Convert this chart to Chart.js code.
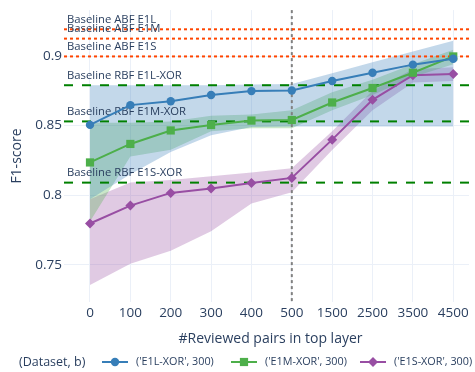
<!DOCTYPE html>
<html>
<head>
<meta charset="utf-8">
<script src="https://cdn.jsdelivr.net/npm/chart.js@4/dist/chart.umd.min.js"></script>
<style>
  html, body { margin: 0; padding: 0; background: #fff; }
  #wrap { width: 475px; height: 372px; }
</style>
</head>
<body>
<div id="wrap"><canvas id="c" width="475" height="372"></canvas></div>
<script>
// x categories (#reviewed pairs)
const steps = ['0', '100', '200', '300', '400', '500', '1500', '2500', '3500', '4500'];
const yTicks = [0.75, 0.8, 0.85, 0.9];

// mean F1 per dataset
const e1l = [0.8505, 0.8647, 0.8675, 0.872, 0.8748, 0.8752, 0.882, 0.888, 0.8938, 0.898];
const e1m = [0.8235, 0.8368, 0.8465, 0.8504, 0.8536, 0.854, 0.8666, 0.877, 0.888, 0.8997];
const e1s = [0.7796, 0.7925, 0.8016, 0.8047, 0.8087, 0.8124, 0.8399, 0.8685, 0.8862, 0.887];

// min / max bands
const e1lLow = [0.797, 0.815, 0.831, 0.843, 0.849, 0.8494, 0.8494, 0.8494, 0.8494, 0.8494];
const e1lHigh = [0.879, 0.879, 0.879, 0.879, 0.8795, 0.8799, 0.8877, 0.8955, 0.9032, 0.911];
const e1mLow = [0.781, 0.8277, 0.8327, 0.846, 0.848, 0.848, 0.861, 0.872, 0.885, 0.894];
const e1mHigh = [0.852, 0.852, 0.853, 0.857, 0.858, 0.861, 0.874, 0.883, 0.894, 0.9045];
const e1sLow = [0.7354, 0.7507, 0.76, 0.774, 0.794, 0.802, 0.8325, 0.861, 0.881, 0.882];
const e1sHigh = [0.797, 0.809, 0.8108, 0.8135, 0.8162, 0.8194, 0.846, 0.875, 0.8905, 0.892];

// baselines
const abfNames = ['Baseline ABF E1L', 'Baseline ABF E1M', 'Baseline ABF E1S'];
const abfValues = [0.9192, 0.9125, 0.8997];
const rbfNames = ['Baseline RBF E1L-XOR', 'Baseline RBF E1M-XOR', 'Baseline RBF E1S-XOR'];
const rbfValues = [0.879, 0.853, 0.809];
const markerStep = 5; // index of "500"

const legendTitle = '(Dataset, b)';
const seriesNames = ["('E1L-XOR', 300)", "('E1M-XOR', 300)", "('E1S-XOR', 300)"];

const BLUE = '#377eb8', GREEN = '#4daf4a', PURPLE = '#984ea3';
const TXT = '#2a3f5f';
const FONT = '"Open Sans", "Noto Sans", sans-serif';

const pts = arr => arr.map((v, i) => ({ x: i, y: v }));

function band(arr, color, fill) {
  return {
    data: pts(arr), borderWidth: 0, borderColor: 'transparent', pointRadius: 0,
    backgroundColor: color, fill: fill, tension: 0, order: 10
  };
}
function series(arr, color, style, r) {
  return {
    data: pts(arr), borderColor: color, backgroundColor: color, borderWidth: 2,
    pointStyle: style, pointRadius: r, pointBorderWidth: 0, fill: false, tension: 0, order: 1
  };
}

const extras = {
  id: 'extras',
  beforeDatasetsDraw(chart) {
    const { ctx, chartArea: a, scales: { x, y } } = chart;
    ctx.save();
    ctx.beginPath();
    ctx.rect(a.left, a.top, a.right - a.left, a.bottom - a.top);
    ctx.clip();
    ctx.lineWidth = 2;
    // vertical marker
    ctx.strokeStyle = '#808080';
    ctx.setLineDash([3, 3]);
    const vx = x.getPixelForValue(markerStep);
    ctx.beginPath(); ctx.moveTo(vx, a.top); ctx.lineTo(vx, a.bottom); ctx.stroke();
    // ABF
    ctx.strokeStyle = '#ff4500';
    abfValues.forEach(v => {
      const py = y.getPixelForValue(v);
      ctx.beginPath(); ctx.moveTo(a.left, py); ctx.lineTo(a.right, py); ctx.stroke();
    });
    // RBF
    ctx.strokeStyle = '#008000';
    ctx.setLineDash([9, 9]);
    rbfValues.forEach(v => {
      const py = y.getPixelForValue(v);
      ctx.beginPath(); ctx.moveTo(a.left, py); ctx.lineTo(a.right, py); ctx.stroke();
    });
    ctx.restore();
    // labels
    ctx.save();
    ctx.font = '11.3px ' + FONT;
    ctx.fillStyle = TXT;
    ctx.textBaseline = 'middle';
    ctx.textAlign = 'left';
    abfNames.concat(rbfNames).forEach((n, i) => {
      const v = abfValues.concat(rbfValues)[i];
      ctx.fillText(n, a.left + 3, y.getPixelForValue(v) - 9.5);
    });
    ctx.restore();
  },
  afterDraw(chart) {
    const { ctx, chartArea: a } = chart;
    ctx.save();
    ctx.fillStyle = TXT;
    ctx.textBaseline = 'middle';
    // axis titles
    ctx.font = '14px ' + FONT;
    ctx.textAlign = 'center';
    ctx.fillText('#Reviewed pairs in top layer', (a.left + a.right) / 2 + 4, 339);
    ctx.save();
    ctx.translate(17, (a.top + a.bottom) / 2);
    ctx.rotate(-Math.PI / 2);
    ctx.fillText('F1-score', 0, 0);
    ctx.restore();
    // legend
    const ly = 362;
    ctx.textAlign = 'left';
    ctx.font = '12.5px ' + FONT;
    ctx.fillText(legendTitle, 19, ly);
    const metas = [6, 7, 8].map(i => chart.data.datasets[i]);
    const itemX = [102, 231, 360];
    ctx.font = '10.8px ' + FONT;
    metas.forEach((d, i) => {
      const lx = itemX[i];
      ctx.strokeStyle = d.borderColor;
      ctx.lineWidth = 2;
      ctx.setLineDash([]);
      ctx.beginPath(); ctx.moveTo(lx, ly); ctx.lineTo(lx + 26, ly); ctx.stroke();
      ctx.fillStyle = d.backgroundColor;
      Chart.helpers.drawPoint(ctx, { pointStyle: d.pointStyle, radius: d.pointRadius, borderWidth: 0 }, lx + 13, ly);
      ctx.fillStyle = TXT;
      ctx.fillText(seriesNames[i], lx + 34, ly);
    });
    ctx.restore();
  }
};

new Chart(document.getElementById('c'), {
  type: 'line',
  data: {
    datasets: [
      band(e1lHigh, 'rgba(55,126,184,0.3)', '+1'),
      band(e1lLow, 'transparent', false),
      band(e1mHigh, 'rgba(77,175,74,0.3)', '+1'),
      band(e1mLow, 'transparent', false),
      band(e1sHigh, 'rgba(152,78,163,0.3)', '+1'),
      band(e1sLow, 'transparent', false),
      series(e1l, BLUE, 'circle', 4.2),
      series(e1m, GREEN, 'rect', 5.8),
      series(e1s, PURPLE, 'rectRot', 5)
    ]
  },
  options: {
    responsive: false,
    animation: false,
    events: [],
    layout: { padding: { top: 5, right: 6, left: 0, bottom: 0 } },
    plugins: {
      legend: { display: false },
      tooltip: { enabled: false },
      filler: { drawTime: 'beforeDatasetsDraw' }
    },
    scales: {
      x: {
        type: 'linear', min: -0.644, max: 9.39,
        afterBuildTicks: s => { s.ticks = steps.map((_, i) => ({ value: i })); },
        afterFit: s => { s.height = 70; },
        ticks: {
          autoSkip: false, maxRotation: 0, padding: 3, color: TXT,
          font: { family: FONT, size: 13.5 },
          callback: v => steps[v]
        },
        grid: { color: '#ebf0f8', lineWidth: 1, drawTicks: false },
        border: { display: false }
      },
      y: {
        min: 0.7232, max: 0.933,
        afterBuildTicks: s => { s.ticks = yTicks.map(v => ({ value: v })); },
        afterFit: s => { s.width = 64; },
        ticks: {
          padding: 2, color: TXT,
          font: { family: FONT, size: 13.5 },
          callback: v => String(v)
        },
        grid: { color: '#ebf0f8', lineWidth: 1, drawTicks: false },
        border: { display: false }
      }
    }
  },
  plugins: [extras]
});
</script>
</body>
</html>
